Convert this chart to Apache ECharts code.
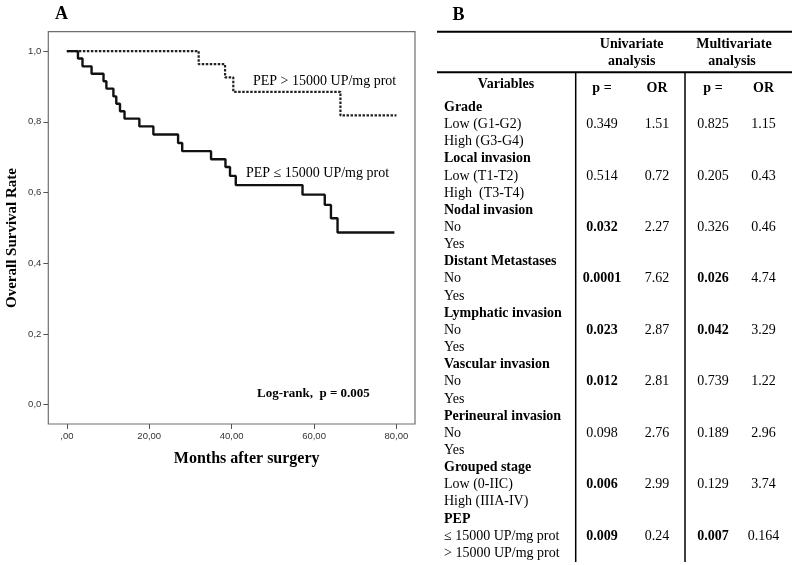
<!DOCTYPE html>
<html>
<head>
<meta charset="utf-8">
<script src="https://cdn.jsdelivr.net/npm/echarts@6/dist/echarts.min.js"></script>
<style>html,body{margin:0;padding:0;background:#fff}#c{width:794px;height:565px}</style>
</head>
<body>
<div id="c"></div>
<script>
// ---- Kaplan-Meier data (months, survival) ----
const lowT = [0, 2.7, 3.8, 6.0, 8.9, 9.6, 11.3, 12.0, 12.9, 14.0, 17.6, 21.0, 27.0, 28.0, 35.0, 38.5, 39.6, 41.0, 57.2, 62.6, 64.1, 65.7, 79.5];
const lowS = [1.0, 0.979, 0.957, 0.936, 0.915, 0.894, 0.872, 0.851, 0.830, 0.809, 0.787, 0.764, 0.740, 0.717, 0.694, 0.672, 0.647, 0.621, 0.594, 0.565, 0.527, 0.487, 0.487];
const highT = [0, 32.0, 38.4, 40.4, 66.4, 80.0];
const highS = [1.0, 0.963, 0.926, 0.885, 0.818, 0.818];
const xTicks = [0, 20, 40, 60, 80];
const xTickLabels = [',00', '20,00', '40,00', '60,00', '80,00'];
const yTicks = [0, 0.2, 0.4, 0.6, 0.8, 1.0];
const yTickLabels = ['0,0', '0,2', '0,4', '0,6', '0,8', '1,0'];

// ---- Table data ----
const groups = ['Grade', 'Local invasion', 'Nodal invasion', 'Distant Metastases', 'Lymphatic invasion', 'Vascular invasion', 'Perineural invasion', 'Grouped stage', 'PEP'];
const levels = [
  ['Low (G1-G2)', 'High (G3-G4)'],
  ['Low (T1-T2)', 'High  (T3-T4)'],
  ['No', 'Yes'],
  ['No', 'Yes'],
  ['No', 'Yes'],
  ['No', 'Yes'],
  ['No', 'Yes'],
  ['Low (0-IIC)', 'High (IIIA-IV)'],
  ['\u2264 15000 UP/mg prot', '> 15000 UP/mg prot']
];
const uniP = ['0.349', '0.514', '0.032', '0.0001', '0.023', '0.012', '0.098', '0.006', '0.009'];
const uniOR = ['1.51', '0.72', '2.27', '7.62', '2.87', '2.81', '2.76', '2.99', '0.24'];
const multiP = ['0.825', '0.205', '0.326', '0.026', '0.042', '0.739', '0.189', '0.129', '0.007'];
const multiOR = ['1.15', '0.43', '0.46', '4.74', '3.29', '1.22', '2.96', '3.74', '0.164'];
const uniSig = [false, false, true, true, true, true, false, true, true];
const multiSig = [false, false, false, true, true, false, false, false, true];

const SERIF = '"Liberation Serif", "Times New Roman", serif';
const SANS = '"Liberation Sans", Arial, sans-serif';

function zip(t, s) { return t.map((v, i) => [v, s[i]]); }

const graphics = [];
function txt(x, y, text, size, bold, align, extra) {
  graphics.push(Object.assign({
    type: 'text', x: x, y: y,
    style: { text: text, fontFamily: SERIF, fontSize: size, fontWeight: bold ? 'bold' : 'normal', fill: '#000', align: align || 'left', verticalAlign: 'middle' }
  }, extra || {}));
}
function line(x1, y1, x2, y2, w) {
  graphics.push({ type: 'line', shape: { x1: x1, y1: y1, x2: x2, y2: y2 }, style: { stroke: '#000', lineWidth: w } });
}

// Panel A texts
txt(55, 14, 'A', 18, true);
txt(12, 238, 'Overall Survival Rate', 15, true, 'center', { rotation: Math.PI / 2 });
txt(246.7, 459, 'Months after surgery', 16, true, 'center');
txt(253, 81, 'PEP > 15000 UP/mg prot', 14, false);
txt(246, 173, 'PEP \u2264 15000 UP/mg prot', 14, false);
txt(257, 394, 'Log-rank,  p = 0.005', 13, true);

// Panel B table
txt(452.5, 15, 'B', 18, true);
line(437, 31.7, 792, 31.7, 2);
line(437, 72.3, 792, 72.3, 2);
line(575.7, 72.3, 575.7, 562, 1.5);
line(685, 72.3, 685, 562, 1.5);
txt(631.7, 44.3, 'Univariate', 14, true, 'center');
txt(631.7, 61, 'analysis', 14, true, 'center');
txt(734, 44.3, 'Multivariate', 14, true, 'center');
txt(732, 61, 'analysis', 14, true, 'center');
txt(506, 84.3, 'Variables', 14, true, 'center');
const colX = [602, 657, 713, 763.5];
txt(colX[0], 88, 'p =', 14, true, 'center');
txt(colX[1], 88, 'OR', 14, true, 'center');
txt(colX[2], 88, 'p =', 14, true, 'center');
txt(colX[3], 88, 'OR', 14, true, 'center');
const rowH = 17.15, row0 = 107.3, textX = 444;
groups.forEach((g, i) => {
  const y = row0 + i * 3 * rowH;
  txt(textX, y, g, 14, true);
  txt(textX, y + rowH, levels[i][0], 14, false);
  txt(textX, y + 2 * rowH, levels[i][1], 14, false);
  txt(colX[0], y + rowH, uniP[i], 14, uniSig[i], 'center');
  txt(colX[1], y + rowH, uniOR[i], 14, false, 'center');
  txt(colX[2], y + rowH, multiP[i], 14, multiSig[i], 'center');
  txt(colX[3], y + rowH, multiOR[i], 14, false, 'center');
});

const chart = echarts.init(document.getElementById('c'));
chart.setOption({
  animation: false,
  backgroundColor: '#fff',
  grid: { left: 48.3, top: 31.7, right: 379, bottom: 141, show: true, borderColor: '#6e6e6e', borderWidth: 1.2, backgroundColor: '#fff' },
  xAxis: {
    type: 'value', min: -4.5, max: 84.5,
    splitLine: { show: false },
    axisLine: { show: false, onZero: false },
    axisTick: { show: true, length: 5, inside: false, customValues: xTicks, lineStyle: { color: '#555', width: 1 } },
    axisLabel: { customValues: xTicks, margin: 7, color: '#333', fontFamily: SANS, fontSize: 9.5,
      formatter: v => xTickLabels[xTicks.indexOf(Math.round(v))] }
  },
  yAxis: {
    type: 'value', min: -0.055, max: 1.055,
    splitLine: { show: false },
    axisLine: { show: false, onZero: false },
    axisTick: { show: true, length: 5, inside: false, customValues: yTicks, lineStyle: { color: '#555', width: 1 } },
    axisLabel: { customValues: yTicks, margin: 7, color: '#333', fontFamily: SANS, fontSize: 9.5,
      formatter: v => yTickLabels[yTicks.findIndex(t => Math.abs(t - v) < 1e-6)] }
  },
  series: [
    { type: 'line', step: 'end', data: zip(highT, highS), symbol: 'none',
      lineStyle: { color: '#222', width: 2.2, type: [2.5, 1.5], cap: 'butt' } },
    { type: 'line', step: 'end', data: zip(lowT, lowS), symbol: 'none',
      lineStyle: { color: '#111', width: 2.4 } }
  ],
  graphic: graphics
});
</script>
</body>
</html>
